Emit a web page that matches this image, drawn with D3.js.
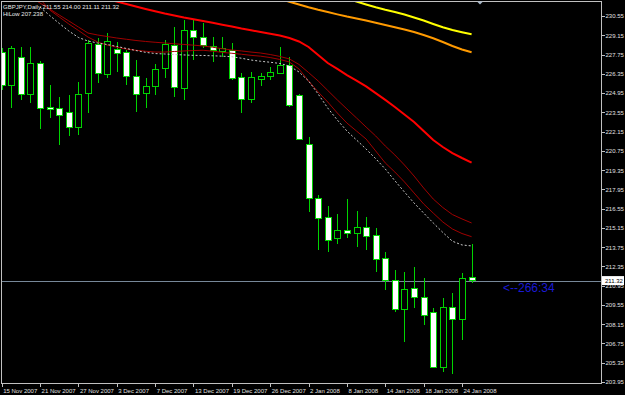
<!DOCTYPE html>
<html>
<head>
<meta charset="utf-8">
<script src="https://cdn.jsdelivr.net/npm/d3@7"></script>
<style>
  html, body { margin: 0; padding: 0; background: #000; }
  svg { display: block; }
  text { font-family: "Liberation Sans", Arial, sans-serif; }
</style>
</head>
<body>
<svg id="chart"></svg>
<script>
'use strict';

const symbol = 'GBPJPY,Daily';
const hiLowValue = '207.238';
const countdown = '<--266:34';

// one entry per daily bar
const barDates = [
  '15 Nov 2007', '16 Nov 2007', '19 Nov 2007', '20 Nov 2007', '21 Nov 2007', '22 Nov 2007',
  '23 Nov 2007', '26 Nov 2007', '27 Nov 2007', '28 Nov 2007', '29 Nov 2007', '30 Nov 2007',
  '3 Dec 2007', '4 Dec 2007', '5 Dec 2007', '6 Dec 2007', '7 Dec 2007', '10 Dec 2007',
  '11 Dec 2007', '12 Dec 2007', '13 Dec 2007', '14 Dec 2007', '17 Dec 2007', '18 Dec 2007',
  '19 Dec 2007', '20 Dec 2007', '21 Dec 2007', '24 Dec 2007', '26 Dec 2007', '27 Dec 2007',
  '28 Dec 2007', '31 Dec 2007', '2 Jan 2008', '3 Jan 2008', '4 Jan 2008', '7 Jan 2008',
  '8 Jan 2008', '9 Jan 2008', '10 Jan 2008', '11 Jan 2008', '14 Jan 2008', '15 Jan 2008',
  '16 Jan 2008', '17 Jan 2008', '18 Jan 2008', '21 Jan 2008', '22 Jan 2008', '23 Jan 2008',
  '24 Jan 2008', '25 Jan 2008',
];
const opens = [
  227.93, 225.54, 227.57, 224.88, 227.13, 223.94, 223.86, 223.57, 222.48, 224.95,
  228.52, 226.34, 228.15, 227.93, 226.19, 224.95, 225.46, 226.77, 228.44, 225.32,
  229.53, 229.02, 228.37, 228.01, 228.08, 226.12, 224.52, 225.97, 226.19, 226.41,
  226.99, 224.81, 221.25, 217.32, 215.94, 214.42, 215.00, 214.78, 215.22, 214.63,
  212.96, 211.36, 209.26, 210.78, 210.13, 209.04, 205.04, 209.40, 208.53, 211.55,
];
const highs = [
  228.23, 228.37, 228.30, 228.30, 227.28, 225.54, 224.66, 224.81, 225.75, 228.81,
  228.95, 229.31, 228.66, 228.08, 227.35, 226.04, 227.06, 228.81, 229.75, 230.26,
  230.26, 230.04, 229.02, 229.02, 228.59, 226.41, 226.48, 226.41, 226.84, 228.30,
  227.57, 224.85, 221.76, 217.54, 216.74, 216.16, 217.25, 216.38, 215.94, 215.14,
  213.40, 212.09, 211.95, 212.31, 211.51, 209.33, 210.06, 210.42, 211.87, 214.00,
];
const lows = [
  225.17, 223.86, 224.45, 224.23, 222.34, 223.14, 221.18, 221.83, 221.90, 223.50,
  225.68, 226.04, 226.48, 225.54, 223.57, 223.86, 224.81, 226.04, 224.66, 224.45,
  227.35, 228.23, 227.20, 227.57, 225.90, 223.50, 224.23, 225.46, 225.90, 226.35,
  223.94, 221.55, 216.31, 213.54, 213.40, 213.98, 214.42, 213.76, 213.54, 211.95,
  210.64, 209.04, 206.86, 209.33, 208.09, 205.00, 204.68, 204.53, 207.00, 211.11,
];
const closes = [
  225.54, 228.23, 224.88, 227.13, 223.86, 223.79, 223.36, 222.48, 224.88, 228.59,
  226.41, 228.73, 227.86, 226.19, 224.88, 225.46, 226.70, 228.52, 225.39, 229.53,
  229.02, 228.44, 228.08, 228.23, 226.04, 224.52, 226.12, 226.19, 226.48, 226.99,
  224.08, 221.61, 217.32, 215.87, 214.27, 215.00, 214.78, 215.22, 214.56, 212.89,
  211.36, 209.26, 210.71, 210.13, 208.82, 205.04, 209.40, 208.53, 211.51, 211.32,
];

// indicator lines, each starting at bar index *Start
const yellowStart = 35;
const yellowMA = [
  232.04, 231.82, 231.60, 231.39, 231.18, 231.00, 230.84, 230.66, 230.44, 230.22,
  229.97, 229.73, 229.53, 229.37, 229.22,
];
const orangeStart = 28;
const orangeMA = [
  231.97, 231.79, 231.59, 231.39, 231.18, 231.00, 230.84, 230.67, 230.51, 230.37,
  230.22, 230.06, 229.90, 229.73, 229.57, 229.39, 229.17, 228.93, 228.66, 228.37,
  228.12, 227.91,
];
const redStart = 10;
const redMA = [
  231.97, 231.79, 231.60, 231.42, 231.24, 231.06, 230.89, 230.73, 230.59, 230.44,
  230.31, 230.19, 230.06, 229.92, 229.79, 229.64, 229.51, 229.39, 229.26, 229.13,
  228.95, 228.70, 228.30, 227.72, 227.13, 226.70, 226.26, 225.86, 225.43, 224.95,
  224.45, 223.94, 223.39, 222.85, 222.19, 221.54, 221.03, 220.59, 220.23, 219.89,
];
const upperStart = 3;
const upperMA = [
  231.93, 231.49, 231.06, 230.62, 230.19, 229.75, 229.31, 229.17, 229.06, 228.95,
  228.86, 228.77, 228.70, 228.64, 228.59, 228.53, 228.48, 228.43, 228.37, 228.28,
  228.17, 228.08, 228.01, 227.93, 227.86, 227.75, 227.61, 227.43, 227.03, 226.44,
  225.83, 225.14, 224.45, 223.79, 223.14, 222.48, 221.83, 221.10, 220.45, 219.72,
  218.92, 218.05, 217.25, 216.63, 216.12, 215.80, 215.51,
];
const lowerStart = 4;
const lowerMA = [
  231.79, 230.99, 230.48, 229.97, 229.50, 229.02, 228.66, 228.44, 228.28, 228.15,
  228.06, 227.99, 227.93, 227.93, 227.97, 228.01, 228.04, 228.06, 227.99, 227.91,
  227.84, 227.77, 227.69, 227.63, 227.53, 227.39, 227.21, 226.70, 225.83, 225.03,
  224.30, 223.50, 222.77, 222.19, 221.61, 220.74, 219.87, 219.21, 218.49, 217.69,
  216.89, 216.23, 215.58, 215.07, 214.74, 214.51,
];
const hiLowStart = 4;
const hiLowLine = [
  231.20, 230.59, 230.01, 229.46, 228.99, 228.73, 228.59, 228.48, 228.34, 228.19,
  228.04, 227.91, 227.82, 227.79, 227.75, 227.72, 227.69, 227.68, 227.66, 227.63,
  227.59, 227.48, 227.35, 227.26, 227.19, 227.10, 226.92, 226.48, 225.83, 224.88,
  223.86, 222.99, 222.19, 221.54, 220.88, 220.18, 219.43, 218.58, 217.76, 216.96,
  216.23, 215.51, 214.82, 214.18, 213.91, 213.84,
];

const tickLabels = [
  '15 Nov 2007', '21 Nov 2007', '27 Nov 2007', '3 Dec 2007', '7 Dec 2007', '13 Dec 2007',
  '19 Dec 2007', '26 Dec 2007', '2 Jan 2008', '8 Jan 2008', '14 Jan 2008', '18 Jan 2008',
  '24 Jan 2008',
];
const priceTicks = [
  230.55, 229.15, 227.75, 226.35, 224.95, 223.55, 222.15, 220.75, 219.35, 217.95,
  216.55, 215.15, 213.75, 212.35, 210.95, 209.55, 208.15, 206.75, 205.35, 203.95,
];

const width = 625;
const height = 395;
const plot = { left: 1.5, top: 1.5, right: 601.5, bottom: 383.5 };

const svg = d3.select('#chart')
  .attr('width', width)
  .attr('height', height)
  .style('background', '#000');

const x = d3.scaleLinear().domain([0, 48]).range([1.7, 462]);
const y = d3.scaleLinear().domain([203.95, 230.55]).range([382, 16]);

svg.append('clipPath').attr('id', 'plot-clip')
  .append('rect')
  .attr('x', plot.left + 0.5).attr('y', plot.top + 0.5)
  .attr('width', plot.right - plot.left - 1).attr('height', plot.bottom - plot.top - 1);

const g = svg.append('g').attr('clip-path', 'url(#plot-clip)');

// bid line
const last = closes.length - 1;
g.append('line')
  .attr('x1', 0).attr('x2', plot.right)
  .attr('y1', Math.round(y(closes[last])) + 0.5)
  .attr('y2', Math.round(y(closes[last])) + 0.5)
  .attr('stroke', '#778899');

// candles
const bars = d3.range(opens.length).map(i => ({
  i, o: opens[i], h: highs[i], l: lows[i], c: closes[i],
}));
const green = '#00d400';
const candle = g.append('g').attr('shape-rendering', 'crispEdges');

candle.selectAll('line.wick')
  .data(bars)
  .enter()
  .append('line')
  .attr('class', 'wick')
  .attr('x1', d => Math.round(x(d.i)) + 0.5)
  .attr('x2', d => Math.round(x(d.i)) + 0.5)
  .attr('y1', d => y(d.h))
  .attr('y2', d => y(d.l))
  .attr('stroke', green);

candle.selectAll('rect.body')
  .data(bars)
  .enter()
  .append('rect')
  .attr('class', 'body')
  .attr('x', d => Math.round(x(d.i)) - 2.5)
  .attr('y', d => Math.round(y(Math.max(d.o, d.c))) + 0.5)
  .attr('width', 6)
  .attr('height', d => Math.max(1, Math.round(y(Math.min(d.o, d.c)) - y(Math.max(d.o, d.c)))))
  .attr('fill', d => (d.c >= d.o) ? '#000' : '#fff')
  .attr('stroke', green);

// indicator lines (drawn over candles like MT4)
const lineGen = d3.line()
  .x(d => x(d[0]))
  .y(d => y(d[1]));
const series = [
  { start: upperStart, vals: upperMA, color: '#a00000', w: 1 },
  { start: lowerStart, vals: lowerMA, color: '#a00000', w: 1 },
  { start: hiLowStart, vals: hiLowLine, color: '#c8c8c8', w: 1, dash: '2,2' },
  { start: redStart, vals: redMA, color: '#ff0000', w: 2 },
  { start: orangeStart, vals: orangeMA, color: '#ff9a00', w: 2 },
  { start: yellowStart, vals: yellowMA, color: '#ffff00', w: 2 },
];
g.selectAll('path.ma')
  .data(series)
  .enter()
  .append('path')
  .attr('class', 'ma')
  .attr('d', s => lineGen(s.vals.map((v, k) => [s.start + k, v])))
  .attr('fill', 'none')
  .attr('stroke', s => s.color)
  .attr('stroke-width', s => s.w)
  .attr('stroke-dasharray', s => s.dash || null);

// frame
svg.append('rect')
  .attr('x', plot.left).attr('y', plot.top)
  .attr('width', plot.right - plot.left).attr('height', plot.bottom - plot.top)
  .attr('fill', 'none')
  .attr('stroke', '#c0c0c0')
  .attr('shape-rendering', 'crispEdges');

// chart shift marker
svg.append('path')
  .attr('d', 'M477,1.5 L483,1.5 L480,4.5 Z')
  .attr('fill', '#a8b8c8');

// axes
const tickIdx = tickLabels.map(t => barDates.indexOf(t));
const xAxis = svg.append('g')
  .attr('transform', `translate(0,${plot.bottom})`)
  .call(d3.axisBottom(x)
    .tickValues(tickIdx)
    .tickSize(3)
    .tickPadding(2)
    .tickFormat(i => barDates[i]));
xAxis.select('.domain').remove();
xAxis.selectAll('line').attr('stroke', '#c0c0c0');
xAxis.selectAll('text')
  .attr('text-anchor', 'start')
  .attr('dx', 1)
  .attr('fill', '#e0e0e0')
  .style('font-size', '6px');

const yAxis = svg.append('g')
  .attr('transform', `translate(${plot.right},0)`)
  .call(d3.axisRight(y)
    .tickValues(priceTicks)
    .tickSize(3)
    .tickPadding(1)
    .tickFormat(d3.format('.2f')));
yAxis.select('.domain').remove();
yAxis.selectAll('line').attr('stroke', '#c0c0c0');
yAxis.selectAll('text')
  .attr('fill', '#e0e0e0')
  .style('font-size', '6px');
svg.selectAll('.tick line').attr('shape-rendering', 'crispEdges');

// bid price label
const bidY = y(closes[last]);
svg.append('rect')
  .attr('x', plot.right + 0.5).attr('y', bidY - 4.5)
  .attr('width', 22).attr('height', 9)
  .attr('fill', '#fff');
svg.append('text')
  .attr('x', plot.right + 3.5).attr('y', bidY + 2)
  .attr('fill', '#000')
  .style('font-size', '6px')
  .text(d3.format('.2f')(closes[last]));

// header texts
const fmt = d3.format('.2f');
svg.append('text')
  .attr('x', 3).attr('y', 8.5)
  .attr('fill', '#e8e8e8')
  .style('font-size', '6px')
  .text(`${symbol} ${fmt(opens[last])} ${fmt(highs[last])} ${fmt(lows[last])} ${fmt(closes[last])}`);
svg.append('text')
  .attr('x', 3).attr('y', 16)
  .attr('fill', '#e8e8e8')
  .style('font-size', '6px')
  .text(`HiLow ${hiLowValue}`);

// bar countdown
svg.append('text')
  .attr('x', 503).attr('y', 292)
  .attr('fill', '#1a1ad4')
  .style('font-size', '12px')
  .text(countdown);
</script>
</body>
</html>
